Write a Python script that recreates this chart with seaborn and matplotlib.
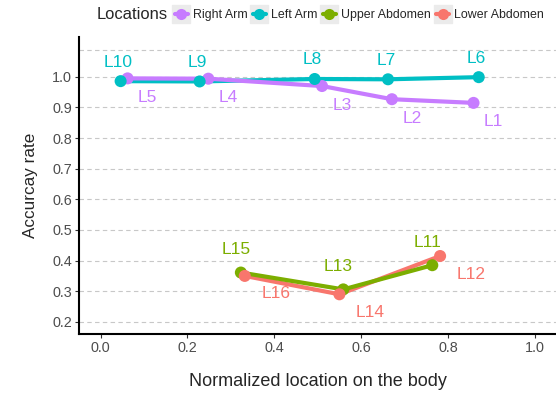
import pandas as pd
import seaborn as sns
import matplotlib.pyplot as plt
from matplotlib.lines import Line2D

# dados
right_arm_x = [0.062, 0.248, 0.510, 0.671, 0.859]
right_arm_y = [0.995, 0.994, 0.970, 0.927, 0.915]
right_arm_lab = ["L5", "L4", "L3", "L2", "L1"]

left_arm_x = [0.046, 0.228, 0.493, 0.662, 0.871]
left_arm_y = [0.986, 0.985, 0.993, 0.992, 0.999]
left_arm_lab = ["L10", "L9", "L8", "L7", "L6"]

upper_abd_x = [0.323, 0.559, 0.764]
upper_abd_y = [0.361, 0.306, 0.385]
upper_abd_lab = ["L15", "L13", "L11"]

lower_abd_x = [0.332, 0.550, 0.782]
lower_abd_y = [0.350, 0.290, 0.415]
lower_abd_lab = ["L16", "L14", "L12"]

locations = ["Right Arm", "Left Arm", "Upper Abdomen", "Lower Abdomen"]
cores = ["#C77CFF", "#00BFC4", "#7CAE00", "#F8766D"]
paleta = dict(zip(locations, cores))

df = pd.concat([
    pd.DataFrame({"x": right_arm_x, "y": right_arm_y, "label": right_arm_lab, "loc": "Right Arm"}),
    pd.DataFrame({"x": left_arm_x, "y": left_arm_y, "label": left_arm_lab, "loc": "Left Arm"}),
    pd.DataFrame({"x": upper_abd_x, "y": upper_abd_y, "label": upper_abd_lab, "loc": "Upper Abdomen"}),
    pd.DataFrame({"x": lower_abd_x, "y": lower_abd_y, "label": lower_abd_lab, "loc": "Lower Abdomen"}),
])

sns.set_style("white")
plt.rcParams["font.family"] = ["Liberation Sans", "DejaVu Sans"]

fig = plt.figure(figsize=(5.56, 3.94), dpi=100)
ax = fig.add_axes([0.142, 0.152, 0.858, 0.754])

# linhas primeiro (ordem alfabetica, como no ggplot), depois os pontos
ordem = sorted(locations)
sns.lineplot(data=df, x="x", y="y", hue="loc", hue_order=ordem, palette=paleta,
             linewidth=3, legend=False, ax=ax, zorder=3)
sns.scatterplot(data=df, x="x", y="y", hue="loc", hue_order=ordem, palette=paleta,
                s=75, linewidth=0, legend=False, ax=ax, zorder=4)

# deslocamento dos rotulos (pixels) por serie
desloc = {"Right Arm": (20, -19), "Left Arm": (-2, 19), "Upper Abdomen": (-5, 23), "Lower Abdomen": (31, -18)}
for _, r in df.iterrows():
    dx, dy = desloc[r["loc"]]
    ax.annotate(r["label"], (r["x"], r["y"]), xytext=(dx * 0.72, dy * 0.72),
                textcoords="offset points", ha="center", va="center",
                color=paleta[r["loc"]], fontsize=12.5)

ax.set_xlim(-0.050, 1.049)
ax.set_ylim(0.16, 1.13)
ax.set_xticks([0, 0.2, 0.4, 0.6, 0.8, 1.0])
ax.set_xticklabels(["0.0", "0.2", "0.4", "0.6", "0.8", "1.0"])
ax.set_yticks([0.2, 0.3, 0.4, 0.5, 0.6, 0.7, 0.8, 0.9, 1.0])
ax.set_yticklabels(["0.2", "0.3", "0.4", "0.5", "0.6", "0.7", "0.8", "0.9", "1.0"])
for g in [0.2, 0.3, 0.4, 0.5, 0.6, 0.7, 0.8, 0.9, 1.0, 1.088]:
    ax.axhline(g, color="#C8C8C8", linestyle=(0, (4, 3)), linewidth=0.8, zorder=0)

ax.tick_params(axis="both", colors="#333333", labelcolor="#4D4D4D", labelsize=10.4,
               length=3, width=0.8, direction="out", bottom=True, left=True, pad=2)
for s in ["top", "right"]:
    ax.spines[s].set_visible(False)
for s in ["left", "bottom"]:
    ax.spines[s].set_color("black")
    ax.spines[s].set_linewidth(1.5)

ax.set_xlabel("Normalized location on the body", fontsize=13, labelpad=13)
ax.set_ylabel("Accurcay rate", fontsize=12.3, labelpad=10)

# legenda no topo, estilo ggplot (fundo cinza nas chaves)
handles = [(Line2D([0], [0], color="#EBEBEB", marker="s", markersize=12.5, linewidth=0),
            Line2D([0], [0], color=c, marker="o", markersize=8, linewidth=3, markeredgewidth=0))
           for c in cores]
fig.legend(handles, locations, loc="center left", bbox_to_anchor=(0.303, 0.962), ncol=4,
           frameon=False, fontsize=8.9, handlelength=1.05, handletextpad=0.4,
           columnspacing=0.45, borderpad=0)
fig.text(0.174, 0.962, "Locations", fontsize=11.9, va="center", ha="left")

fig.savefig("out.png", dpi=100)
plt.close()
